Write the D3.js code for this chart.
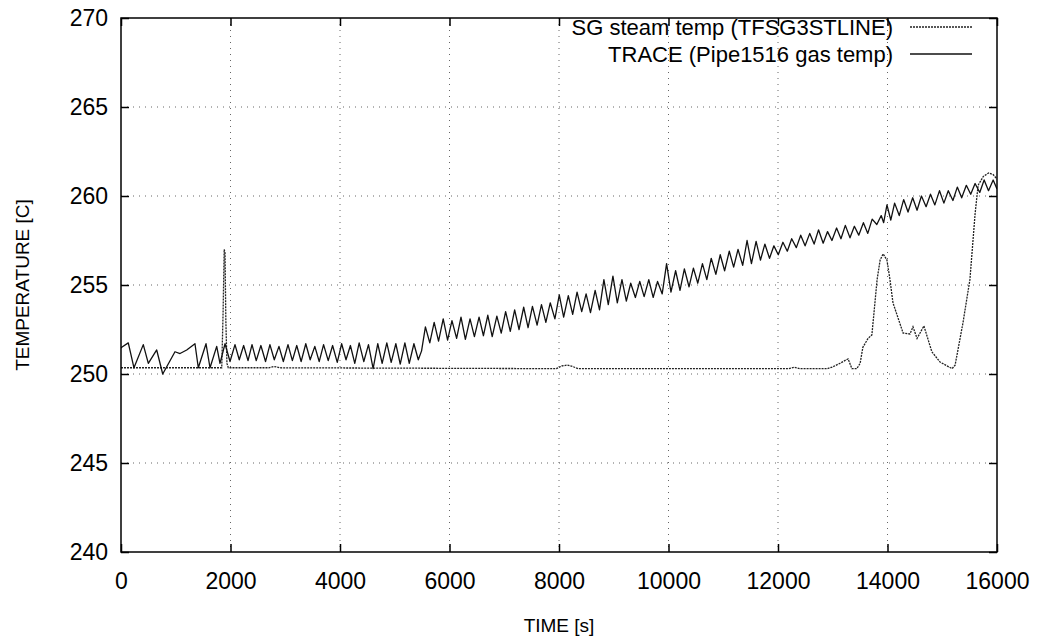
<!DOCTYPE html>
<html>
<head>
<meta charset="utf-8">
<script src="https://cdn.jsdelivr.net/npm/d3@7"></script>
<style>
  body { margin: 0; background: #fff; }
  text { font-family: "Liberation Sans", Arial, sans-serif; fill: #000; }
</style>
</head>
<body>
<div id="chart"></div>
<script>
/**
 * Data
 */
const xTicks = [0, 2000, 4000, 6000, 8000, 10000, 12000, 14000, 16000];
const yTicks = [240, 245, 250, 255, 260, 265, 270];
const seriesNames = ["SG steam temp (TFSG3STLINE)", "TRACE (Pipe1516 gas temp)"];

// SG steam temp: flat near saturation, spike at ~1900 s, hump after 13000 s
const sgTime = [0, 1840, 1865, 1885, 1900, 1915, 1935, 1960, 2700, 2800, 2900, 7950, 8050, 8150, 8250, 8350,
  12200, 12300, 12400, 12900, 13000, 13130, 13280, 13350, 13440, 13500, 13550, 13645, 13715, 13810,
  13865, 13920, 13990, 14045, 14100, 14285, 14410, 14465, 14540, 14665, 14810, 14960, 15180, 15235,
  15380, 15505, 15600, 15655, 15750, 15850, 15930, 16000];
const sgTemp = [250.35, 250.35, 253.5, 257.0, 256.8, 253.0, 250.6, 250.35, 250.35, 250.42, 250.35, 250.3, 250.45, 250.5, 250.42, 250.3,
  250.3, 250.38, 250.3, 250.3, 250.4, 250.6, 250.85, 250.3, 250.3, 250.6, 251.5, 252.0, 252.2, 255.3,
  256.4, 256.75, 256.4, 255.3, 254.0, 252.3, 252.25, 252.65, 252.0, 252.7, 251.25, 250.67, 250.3, 250.5,
  252.9, 255.3, 259.0, 260.6, 261.1, 261.3, 261.2, 260.95];

// TRACE gas temp: oscillating, rising from ~251 to ~260.5
const traceTime = [0, 13, 133, 237, 407, 499, 652, 762, 986, 1078, 1200, 1351, 1412, 1553, 1626, 1748, 1808, 1900, 1991, 2082, 2160, 2240, 2320,
  2393, 2470, 2555, 2640, 2720, 2800, 2885, 2965, 3050, 3130, 3210, 3290, 3375, 3455, 3540, 3620, 3700, 3785, 3865, 3950,
  4030, 4110, 4190, 4270, 4350, 4435, 4520, 4605, 4690, 4770, 4855, 4935, 5020, 5100, 5185, 5265, 5350, 5430, 5490, 5560,
  5640, 5720, 5800, 5885, 5965, 6045, 6130, 6210, 6290, 6375, 6455, 6540, 6620, 6700, 6780, 6865, 6945, 7025, 7110, 7190,
  7270, 7355, 7435, 7515, 7600, 7680, 7760, 7840, 7925, 8005, 8085, 8170, 8250, 8330, 8415, 8495, 8575, 8660, 8740, 8820,
  8900, 8985, 9065, 9150, 9230, 9310, 9395, 9475, 9555, 9640, 9720, 9800, 9885, 9965, 10045, 10130, 10210, 10290, 10375,
  10455, 10535, 10620, 10700, 10780, 10865, 10945, 11025, 11110, 11190, 11270, 11355, 11435, 11515, 11600, 11680, 11760,
  11845, 11925, 12005, 12090, 12170, 12250, 12335, 12415, 12495, 12580, 12660, 12740, 12825, 12905, 12985, 13070, 13150,
  13230, 13315, 13395, 13475, 13560, 13640, 13720, 13805, 13885, 13930, 13990, 14060, 14130, 14215, 14295, 14375, 14460,
  14540, 14620, 14705, 14785, 14865, 14950, 15030, 15110, 15195, 15275, 15355, 15440, 15520, 15600, 15685, 15765, 15845,
  15930, 16000];
const traceTemp = [251.45, 251.5, 251.75, 250.35, 251.65, 250.6, 251.35, 250.0, 251.25, 251.15, 251.35, 251.7, 250.35, 251.7, 250.35, 251.55, 250.6, 251.7, 250.7, 251.65, 250.8, 251.6, 250.75,
  251.65, 250.75, 251.6, 250.7, 251.65, 250.8, 251.55, 250.7, 251.65, 250.75, 251.6, 250.7, 251.7, 250.8, 251.55, 250.7, 251.65, 250.75, 251.6, 250.65,
  251.7, 250.8, 251.6, 250.6, 251.75, 250.7, 251.65, 250.3, 251.7, 250.6, 251.75, 250.65, 251.7, 250.55, 251.75, 250.6, 251.7, 250.8, 251.3, 252.65,
  251.75, 252.9, 251.85, 253.1, 251.9, 253.0, 252.0, 253.2, 251.95, 253.1, 252.1, 253.2, 252.15, 253.3, 252.1, 253.25, 252.3, 253.5, 252.4, 253.6,
  252.5, 253.75, 252.6, 253.8, 252.75, 253.9, 252.9, 254.0, 253.1, 254.45, 253.2, 254.4, 253.35, 254.6, 253.5, 254.5, 253.45, 254.7, 253.6, 255.3,
  253.9, 255.5, 254.0, 255.3, 254.1, 255.1, 254.3, 255.2, 254.35, 255.3, 254.3, 255.2, 254.5, 256.2, 254.6, 255.8, 254.7, 255.9, 254.9,
  255.95, 255.1, 256.2, 255.3, 256.5, 255.6, 256.7, 255.8, 256.9, 256.0, 257.0, 256.1, 257.5, 256.2, 257.45, 256.4, 257.3,
  256.5, 257.2, 256.7, 257.4, 256.9, 257.6, 257.1, 257.8, 257.2, 257.9, 257.3, 258.1, 257.35, 258.0, 257.5, 258.2, 257.6,
  258.35, 257.65, 258.3, 257.8, 258.5, 257.9, 258.7, 258.4, 258.9, 258.5, 259.5, 258.65, 259.6, 258.9, 259.8, 259.1, 259.9,
  259.2, 260.0, 259.4, 260.1, 259.5, 260.3, 259.6, 260.3, 259.75, 260.5, 259.9, 260.6, 260.1, 260.7, 260.2, 260.9, 260.3,
  260.9, 260.4];

/**
 * Basic Settings
 */
const canvasWidth = 1042;
const canvasHeight = 643;
const plot = { left: 121, right: 997, top: 18, bottom: 552 };

const svg = d3.select("#chart")
  .append("svg")
  .attr("width", canvasWidth)
  .attr("height", canvasHeight)
  .style("background", "#fff");

/**
 * Scale
 */
const xScale = d3.scaleLinear()
  .domain([0, 16000])
  .range([plot.left, plot.right]);

const yScale = d3.scaleLinear()
  .domain([240, 270])
  .range([plot.bottom, plot.top]);

/**
 * Grid
 */
const grid = svg.append("g")
  .attr("class", "grid")
  .attr("stroke", "#666")
  .attr("stroke-width", 1)
  .attr("stroke-dasharray", "1,5");

grid.selectAll(".gx")
  .data(xTicks.slice(1, -1))
  .enter()
  .append("line")
  .attr("x1", d => xScale(d))
  .attr("x2", d => xScale(d))
  .attr("y1", plot.top)
  .attr("y2", plot.bottom);

grid.selectAll(".gy")
  .data(yTicks.slice(1, -1))
  .enter()
  .append("line")
  .attr("x1", plot.left)
  .attr("x2", plot.right)
  .attr("y1", d => yScale(d))
  .attr("y2", d => yScale(d));

/**
 * Axis
 */
const tickFont = 23;

const xAxis = d3.axisBottom(xScale)
  .tickValues(xTicks)
  .tickFormat(d3.format("d"))
  .tickSizeInner(-8)
  .tickSizeOuter(0)
  .tickPadding(21);

svg.append("g")
  .attr("class", "x-axis")
  .attr("transform", `translate(0, ${plot.bottom})`)
  .call(xAxis)
  .call(g => g.select(".domain").remove())
  .selectAll("text")
  .style("font-size", tickFont + "px");

const xAxisTop = d3.axisTop(xScale)
  .tickValues(xTicks)
  .tickSizeInner(-8)
  .tickSizeOuter(0)
  .tickFormat("");

svg.append("g")
  .attr("transform", `translate(0, ${plot.top})`)
  .call(xAxisTop)
  .call(g => g.select(".domain").remove());

const yAxis = d3.axisLeft(yScale)
  .tickValues(yTicks)
  .tickSizeInner(-8)
  .tickSizeOuter(0)
  .tickPadding(13);

svg.append("g")
  .attr("class", "y-axis")
  .attr("transform", `translate(${plot.left}, 0)`)
  .call(yAxis)
  .call(g => g.select(".domain").remove())
  .selectAll("text")
  .style("font-size", tickFont + "px");

const yAxisRight = d3.axisRight(yScale)
  .tickValues(yTicks)
  .tickSizeInner(-8)
  .tickSizeOuter(0)
  .tickFormat("");

svg.append("g")
  .attr("transform", `translate(${plot.right}, 0)`)
  .call(yAxisRight)
  .call(g => g.select(".domain").remove());

svg.selectAll(".tick line")
  .attr("stroke", "#000")
  .attr("stroke-width", 1.5);

/**
 * Lines
 */
svg.append("clipPath")
  .attr("id", "plot-clip")
  .append("rect")
  .attr("x", plot.left)
  .attr("y", plot.top)
  .attr("width", plot.right - plot.left)
  .attr("height", plot.bottom - plot.top);

const line = d3.line()
  .x(d => xScale(d[0]))
  .y(d => yScale(d[1]));

const sgData = sgTime.map((t, i) => [t, sgTemp[i]]);
const traceData = traceTime.map((t, i) => [t, traceTemp[i]]);

const styles = [
  { stroke: "#222", width: 1.3, dash: "2,1" },
  { stroke: "#111", width: 1.3, dash: null }
];

svg.append("path")
  .datum(sgData)
  .attr("clip-path", "url(#plot-clip)")
  .attr("fill", "none")
  .attr("stroke", styles[0].stroke)
  .attr("stroke-width", styles[0].width)
  .attr("stroke-dasharray", styles[0].dash)
  .attr("d", line);

svg.append("path")
  .datum(traceData)
  .attr("clip-path", "url(#plot-clip)")
  .attr("fill", "none")
  .attr("stroke", styles[1].stroke)
  .attr("stroke-width", styles[1].width)
  .attr("stroke-linejoin", "round")
  .attr("d", line);

/**
 * Frame
 */
svg.append("rect")
  .attr("x", plot.left)
  .attr("y", plot.top)
  .attr("width", plot.right - plot.left)
  .attr("height", plot.bottom - plot.top)
  .attr("fill", "none")
  .attr("stroke", "#000")
  .attr("stroke-width", 1.5);

/**
 * Legend
 */
const legend = svg.selectAll(".legend")
  .data(seriesNames)
  .enter()
  .append("g")
  .attr("class", "legend")
  .attr("transform", (d, i) => `translate(0, ${27 + i * 27})`);

legend.append("text")
  .attr("x", 893)
  .attr("y", 0)
  .attr("dy", "0.35em")
  .attr("text-anchor", "end")
  .style("font-size", "22px")
  .text(d => d);

legend.append("line")
  .attr("x1", 910)
  .attr("x2", 972)
  .attr("y1", 0)
  .attr("y2", 0)
  .attr("stroke", (d, i) => styles[i].stroke)
  .attr("stroke-width", (d, i) => styles[i].width)
  .attr("stroke-dasharray", (d, i) => styles[i].dash);

/**
 * Axis titles
 */
svg.append("text")
  .attr("x", (plot.left + plot.right) / 2)
  .attr("y", 625)
  .attr("dy", "0.35em")
  .attr("text-anchor", "middle")
  .style("font-size", "19px")
  .text("TIME [s]");

svg.append("text")
  .attr("transform", `translate(22, ${(plot.top + plot.bottom) / 2}) rotate(-90)`)
  .attr("dy", "0.35em")
  .attr("text-anchor", "middle")
  .style("font-size", "19px")
  .text("TEMPERATURE [C]");
</script>
</body>
</html>
